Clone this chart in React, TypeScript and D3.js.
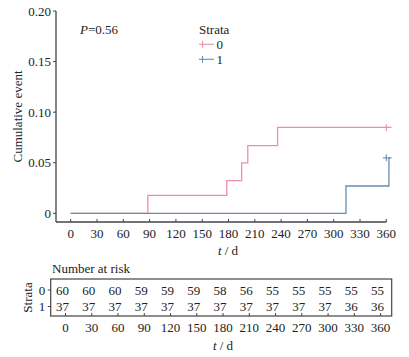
import React from "react";
import * as d3 from "d3";

const timeTicks = [0, 30, 60, 90, 120, 150, 180, 210, 240, 270, 300, 330, 360];
const yTicks = [0, 0.05, 0.1, 0.15, 0.2];
const yTickLabels = ["0", "0.05", "0.10", "0.15", "0.20"];

const strata0Times = [0, 88, 178, 195, 202, 236];
const strata0Values = [0, 0.0178, 0.0324, 0.0498, 0.067, 0.0849];
const strata0End = 366;
const strata0Censor = [{ t: 360, v: 0.0849 }];

const strata1Times = [0, 314, 363];
const strata1Values = [0, 0.027, 0.0548];
const strata1End = 366;
const strata1Censor = [{ t: 360, v: 0.0548 }];

const riskRow0 = [60, 60, 60, 59, 59, 59, 58, 56, 55, 55, 55, 55, 55];
const riskRow1 = [37, 37, 37, 37, 37, 37, 37, 37, 37, 37, 37, 36, 36];

const strataNames = ["0", "1"];
const colors = ["#EE8FA8", "#6A8DB3"];
const FONT = "'Liberation Serif', 'Times New Roman', Times, serif";
const AX = "#444";
const TXT = "#222";

function stepPath(times: number[], values: number[], end: number, x: d3.ScaleLinear<number, number>, y: d3.ScaleLinear<number, number>) {
  const pts: [number, number][] = [];
  for (let i = 0; i < times.length; i++) {
    pts.push([times[i], values[i]]);
  }
  pts.push([end, values[values.length - 1]]);
  const line = d3.line<[number, number]>().x((d) => x(d[0])).y((d) => y(d[1])).curve(d3.curveStepAfter);
  return line(pts) || "";
}

export default function App() {
  const W = 409, H = 357;
  const x = d3.scaleLinear().domain([0, 360]).range([70.7, 386.3]);
  const y = d3.scaleLinear().domain([0, 0.2]).range([213.3, 11]);
  const xb = d3.scaleLinear().domain([0, 360]).range([65.5, 380.6]);
  const axisLeft = 56, axisBottom = 222;
  const boxL = 50.7, boxR = 391.7, boxT = 279, boxB = 316;
  const row0Y = 290, row1Y = 306.5;

  const series = [
    { times: strata0Times, values: strata0Values, end: strata0End, censor: strata0Censor },
    { times: strata1Times, values: strata1Values, end: strata1End, censor: strata1Censor },
  ];

  return (
    <svg width={W} height={H} style={{ position: "absolute", left: 0, top: 0, background: "#fff", fontFamily: FONT }}>
      {/* axes */}
      <line x1={axisLeft} x2={axisLeft} y1={y(0.2)} y2={axisBottom} stroke={AX} strokeWidth={1.3} />
      <line x1={axisLeft} x2={x(360)} y1={axisBottom} y2={axisBottom} stroke={AX} strokeWidth={1.3} />
      {yTicks.map((v, i) => (
        <g key={"yt" + i}>
          <line x1={axisLeft - 3} x2={axisLeft} y1={y(v)} y2={y(v)} stroke={AX} strokeWidth={1} />
          <text x={axisLeft - 5} y={y(v)} dy="0.35em" textAnchor="end" fontSize={13} fill={TXT}>{yTickLabels[i]}</text>
        </g>
      ))}
      {timeTicks.map((t) => (
        <g key={"xt" + t}>
          <line x1={x(t)} x2={x(t)} y1={axisBottom - 3} y2={axisBottom} stroke={AX} strokeWidth={1} />
          <text x={x(t)} y={233.5} dy="0.35em" textAnchor="middle" fontSize={13} fill={TXT}>{t}</text>
        </g>
      ))}
      <text x={228} y={250} dy="0.35em" textAnchor="middle" fontSize={13} fill={TXT}>
        <tspan fontStyle="italic">t</tspan> / d
      </text>
      <text transform={`translate(17,${(y(0.2) + axisBottom) / 2}) rotate(-90)`} textAnchor="middle" dy="0.35em" fontSize={13} fill={TXT}>Cumulative event</text>

      {/* curves */}
      {series.map((s, i) => (
        <g key={"s" + i}>
          <path d={stepPath(s.times, s.values, s.end, x, y)} fill="none" stroke={colors[i]} strokeWidth={1.3} />
          {s.censor.map((c, j) => (
            <g key={j}>
              <line x1={x(c.t) - 3.5} x2={x(c.t) + 3.5} y1={y(c.v)} y2={y(c.v)} stroke={colors[i]} strokeWidth={1.1} />
              <line x1={x(c.t)} x2={x(c.t)} y1={y(c.v) - 3.5} y2={y(c.v) + 3.5} stroke={colors[i]} strokeWidth={1.1} />
            </g>
          ))}
        </g>
      ))}

      {/* P value */}
      <text x={80} y={29} dy="0.35em" fontSize={13} fill={TXT}>
        <tspan fontStyle="italic">P</tspan>=0.56
      </text>

      {/* legend */}
      <text x={199} y={29} dy="0.35em" fontSize={13} fill={TXT}>Strata</text>
      {strataNames.map((n, i) => {
        const ly = 44.3 + i * 15;
        return (
          <g key={"lg" + i}>
            <line x1={199} x2={214} y1={ly} y2={ly} stroke={colors[i]} strokeWidth={1.1} />
            <line x1={202.5} x2={202.5} y1={ly - 3.5} y2={ly + 3.5} stroke={colors[i]} strokeWidth={1.1} />
            <text x={216.5} y={ly} dy="0.35em" fontSize={13} fill={TXT}>{n}</text>
          </g>
        );
      })}

      {/* risk table */}
      <text x={52} y={268} dy="0.35em" fontSize={13} fill={TXT}>Number at risk</text>
      <rect x={boxL} y={boxT} width={boxR - boxL} height={boxB - boxT} fill="none" stroke={AX} strokeWidth={1.2} />
      {[row0Y, row1Y].map((ry, i) => (
        <g key={"rl" + i}>
          <line x1={boxL - 3} x2={boxL} y1={ry} y2={ry} stroke={AX} strokeWidth={1} />
          <text x={42} y={ry} dy="0.35em" textAnchor="middle" fontSize={13} fill={TXT}>{strataNames[i]}</text>
        </g>
      ))}
      <text transform={`translate(27,${(boxT + boxB) / 2}) rotate(-90)`} textAnchor="middle" dy="0.35em" fontSize={13} fill={TXT}>Strata</text>
      {timeTicks.map((t, i) => (
        <g key={"rt" + t}>
          <line x1={xb(t)} x2={xb(t)} y1={boxB - 3} y2={boxB} stroke={AX} strokeWidth={1} />
          <text x={xb(t) - 3} y={row0Y} dy="0.35em" textAnchor="middle" fontSize={13} fill={TXT}>{riskRow0[i]}</text>
          <text x={xb(t) - 3} y={row1Y} dy="0.35em" textAnchor="middle" fontSize={13} fill={TXT}>{riskRow1[i]}</text>
          <text x={xb(t)} y={327.7} dy="0.35em" textAnchor="middle" fontSize={13} fill={TXT}>{t}</text>
        </g>
      ))}
      <text x={223} y={345.5} dy="0.35em" textAnchor="middle" fontSize={13} fill={TXT}>
        <tspan fontStyle="italic">t</tspan> / d
      </text>
    </svg>
  );
}
